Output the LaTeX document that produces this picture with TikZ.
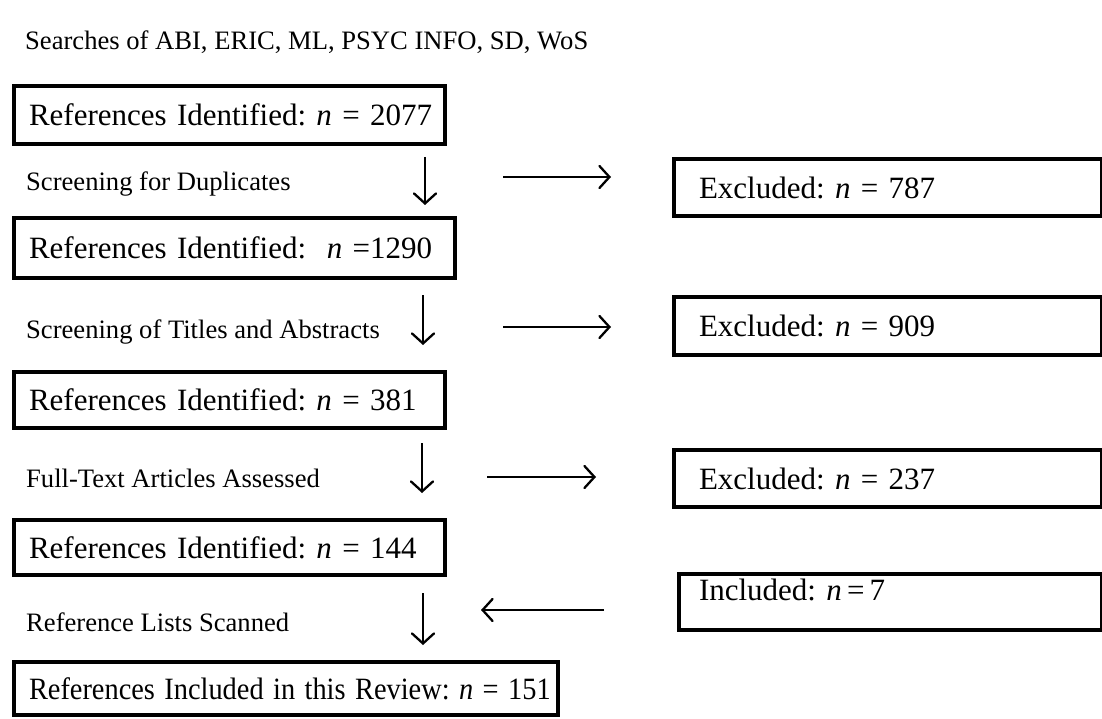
\documentclass[tikz,border=0pt]{standalone}
\usepackage{fontspec}
\setmainfont{Liberation Serif}
\usepackage{tikz}
\usetikzlibrary{arrows.meta,positioning}
\frenchspacing
\newcommand{\boxfont}{\fontsize{31}{36}\selectfont}
\newcommand{\labfont}{\fontsize{26.6}{30}\selectfont}
\tikzstyle{refbox}=[draw,line width=4pt,anchor=west,align=left,inner xsep=15pt,inner ysep=0pt,font=\boxfont]
\tikzstyle{exbox}=[draw,line width=4pt,anchor=west,align=left,inner xsep=25pt,inner ysep=0pt,font=\boxfont]
\tikzstyle{steplabel}=[anchor=west,inner sep=0pt,font=\labfont]
\tikzstyle{flow}=[line width=2.3pt,-{Straight Barb[length=10pt,width=22pt,line cap=round]}]
\begin{document}
\begin{tikzpicture}[x=1pt,y=-1pt]
\useasboundingbox (0,0) rectangle (1102,719);
% title
\draw (25,42) node [steplabel] (title) {Searches of ABI, ERIC, ML, PSYC INFO, SD, WoS};
% main column
\draw (12,115) node [refbox, text width=401pt, minimum height=58pt] (b1) {\mbox{References Identified: \textit{n} = 2077}};
\draw (12,248) node [refbox, text width=411pt, minimum height=59pt] (b2) {\mbox{References Identified:\ \ \textit{n} =1290}};
\draw (12,400) node [refbox, text width=401pt, minimum height=56pt] (b3) {\mbox{References Identified: \textit{n} = 381}};
\draw (12,547.5) node [refbox, text width=401pt, minimum height=55pt] (b4) {\mbox{References Identified: \textit{n} = 144}};
\draw (12,688.5) node [refbox, text width=514pt, minimum height=53pt] (b5) {\scalebox{0.915}[1]{References Included in this Review: \textit{n} = 151}};
% step labels
\draw (26,184) node [steplabel] (s1) {Screening for Duplicates};
\draw (26,332) node [steplabel] (s2) {Screening of Titles and Abstracts};
\draw (26,478) node [steplabel] (s3) {Full-Text Articles Assessed};
\draw (26,622) node [steplabel] (s4) {Reference Lists Scanned};
% side boxes
\draw (672,187.5) node [exbox, text width=378pt, minimum height=57pt] (e1) {Excluded: \textit{n} = 787};
\draw (672,326) node [exbox, text width=378pt, minimum height=58pt] (e2) {Excluded: \textit{n} = 909};
\draw (672,478.5) node [exbox, text width=378pt, minimum height=57pt] (e3) {Excluded: \textit{n} = 237};
\draw (677,572) node [exbox, anchor=north west, inner xsep=20pt, text width=383pt, text height=24pt, text depth=28pt, inner ysep=2pt] (inc) {Included: \textit{n}\,=\,7};
% arrow ends
\coordinate (d1a) at (425,157); \coordinate (d1b) at (425,205);
\coordinate (d2a) at (423,295); \coordinate (d2b) at (423,345);
\coordinate (d3a) at (422,443); \coordinate (d3b) at (422,493);
\coordinate (d4a) at (423,593); \coordinate (d4b) at (423,645);
\coordinate (r1a) at (503,177); \coordinate (r1b) at (611,177);
\coordinate (r2a) at (503,327); \coordinate (r2b) at (611,327);
\coordinate (r3a) at (487,477); \coordinate (r3b) at (596,477);
\coordinate (l4a) at (604,610); \coordinate (l4b) at (481,610);
\draw[flow] (d1a) -- (d1b);
\draw[flow] (d2a) -- (d2b);
\draw[flow] (d3a) -- (d3b);
\draw[flow] (d4a) -- (d4b);
\draw[flow] (r1a) -- (r1b);
\draw[flow] (r2a) -- (r2b);
\draw[flow] (r3a) -- (r3b);
\draw[flow] (l4a) -- (l4b);
\end{tikzpicture}
\end{document}
